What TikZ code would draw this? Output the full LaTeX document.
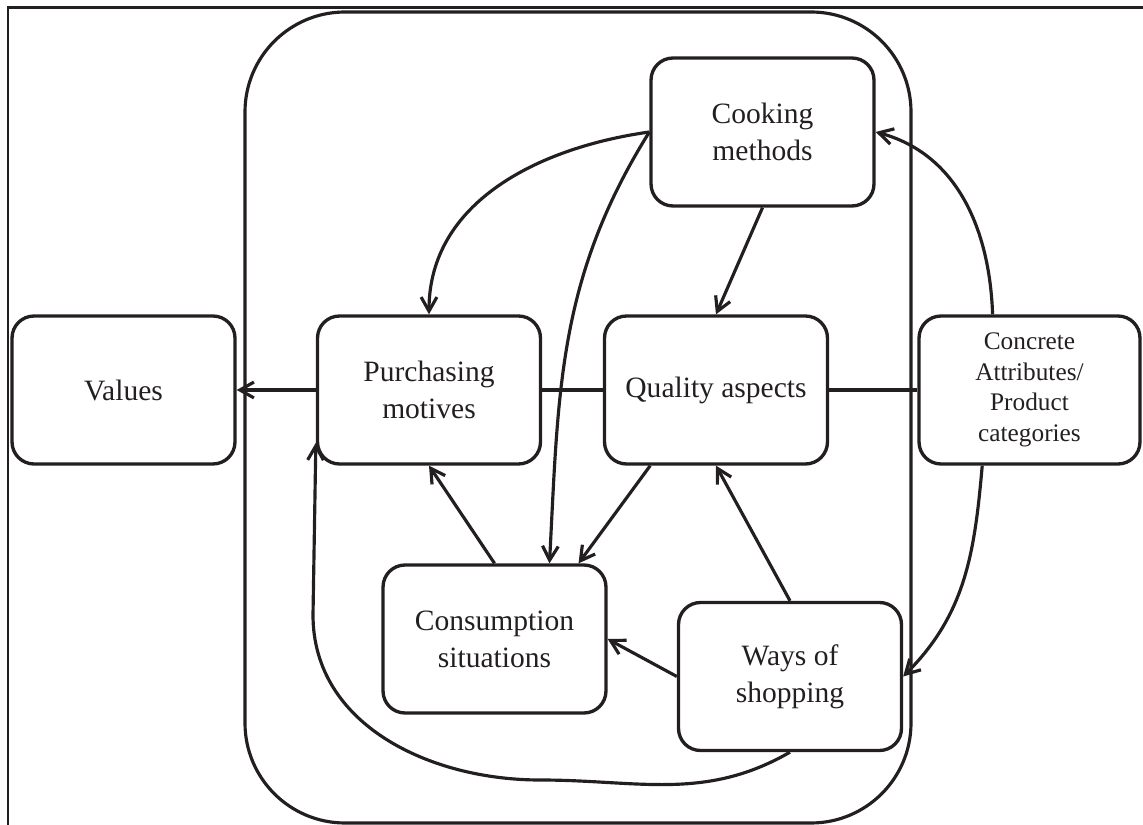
\documentclass[tikz,border=0pt]{standalone}
\usepackage{fontspec}
\setmainfont{Liberation Serif}
\usetikzlibrary{arrows.meta}
\definecolor{ink}{HTML}{231F20}
\begin{document}
\begin{tikzpicture}[x=0.02cm, y=0.02cm, color=ink,
  box/.style={draw=ink, line width=1.9pt, rounded corners=0.44cm,
    minimum width=4.46cm, minimum height=2.96cm, inner sep=0pt,
    align=center, text=ink, font=\fontsize{16.8}{21}\selectfont},
  smallbox/.style={box, minimum width=4.42cm, font=\fontsize{14.4}{17.4}\selectfont},
  link/.style={draw=ink, line width=1.8pt},
  arr/.style={link, -{Straight Barb[length=8pt, width=9pt, line width=1.8pt]}}
]
\useasboundingbox (0,0) rectangle (1143,825);

% outer frame (top and left edges)
\draw[draw=ink, line width=1.2pt] (1143,817.5) -- (8,817.5) -- (8,0);

% large rounded enclosure
\draw[draw=ink, line width=1.8pt, rounded corners=2cm] (245,2) rectangle (911,813);

% boxes
\node[box] (val) at (123.5,435) {Values};
\node[box] (pm)  at (429,435)   {Purchasing\\motives};
\node[box] (qa)  at (716,435)   {Quality aspects};
\node[smallbox] (ca) at (1029.5,435) {Concrete\\Attributes/\\Product\\categories};
\node[box] (cm)  at (762.5,693) {Cooking\\methods};
\node[box] (cs)  at (494.5,186) {Consumption\\situations};
\node[box] (ws)  at (790,148.5) {Ways of\\shopping};

% plain links along the middle row
\draw[link] (pm.east) -- (qa.west);
\draw[link] (qa.east) -- (ca.west);

% arrows
\draw[arr] (pm.west) -- (val.east);
\draw[arr] (cm.west) to[out=188, in=90] (pm.north);
\draw[arr] (cm.west) to[out=238, in=87] (cs.54);
\draw[arr] (cm.south) -- (qa.north);
\draw[arr] (ca.116) to[out=92, in=-15] (cm.east);
\draw[arr] (ca.238) to[out=-95, in=45] (ws.east);
\draw[arr] (qa.229) -- (cs.42);
\draw[arr] (cs.north) -- (pm.south);
\draw[arr] (ws.north) -- (qa.south);
\draw[arr] (ws.west) -- (cs.east);
\draw[arr] (ws.south) to[out=210, in=0] (540,45)
  to[out=180, in=-90] (313,210) -- (pm.205);
\end{tikzpicture}
\end{document}
